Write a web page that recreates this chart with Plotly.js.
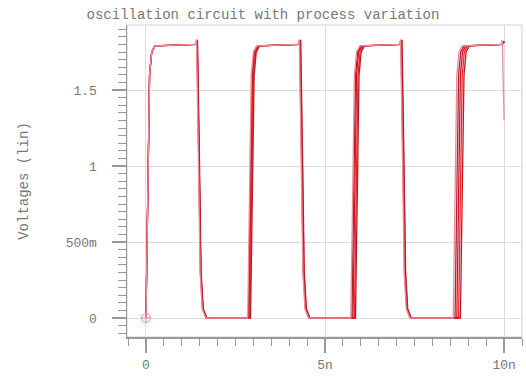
<!DOCTYPE html>
<html>
<head>
<meta charset="utf-8">
<script src="https://cdn.plot.ly/plotly-3.0.1.min.js"></script>
<style>html,body{margin:0;padding:0;background:#fff;}#chart{width:526px;height:376px;}</style>
</head>
<body>
<div id="chart"></div>
<script>
// time in ns, voltage in V
var t1 = [0, 0.05, 0.10, 0.16, 0.25, 1.37, 1.41, 1.46, 1.51, 1.57, 1.67, 2.84, 2.89, 2.94, 3.00, 3.09, 4.24, 4.28, 4.33, 4.38, 4.44, 4.54, 5.72, 5.77, 5.82, 5.88, 5.97, 7.07, 7.11, 7.16, 7.21, 7.27, 7.37, 8.58, 8.63, 8.68, 8.74, 8.83, 9.91, 9.95, 10.0];
var t2 = [0, 0.05, 0.10, 0.16, 0.25, 1.38, 1.42, 1.47, 1.52, 1.58, 1.68, 2.86, 2.91, 2.96, 3.02, 3.11, 4.25, 4.29, 4.34, 4.39, 4.45, 4.55, 5.75, 5.80, 5.85, 5.91, 6.00, 7.08, 7.12, 7.17, 7.22, 7.28, 7.38, 8.63, 8.68, 8.73, 8.79, 8.88, 9.94, 9.98, 10.0];
var t3 = [0, 0.05, 0.10, 0.16, 0.25, 1.39, 1.43, 1.48, 1.53, 1.59, 1.69, 2.88, 2.93, 2.98, 3.04, 3.13, 4.26, 4.30, 4.35, 4.40, 4.46, 4.56, 5.78, 5.83, 5.88, 5.94, 6.03, 7.09, 7.13, 7.18, 7.23, 7.29, 7.39, 8.68, 8.73, 8.78, 8.84, 8.93, 9.94, 9.98, 10.0];
var t4 = [0, 0.05, 0.10, 0.16, 0.25, 1.39, 1.43, 1.48, 1.53, 1.59, 1.69, 2.90, 2.95, 3.00, 3.06, 3.15, 4.27, 4.31, 4.36, 4.41, 4.47, 4.57, 5.82, 5.87, 5.92, 5.98, 6.07, 7.10, 7.14, 7.19, 7.24, 7.30, 7.40, 8.73, 8.78, 8.83, 8.89, 8.98, 9.95, 9.99, 10.0];
var t5 = [0, 0.05, 0.10, 0.16, 0.25, 1.40, 1.44, 1.49, 1.54, 1.60, 1.70, 2.92, 2.97, 3.02, 3.08, 3.17, 4.28, 4.32, 4.37, 4.42, 4.48, 4.58, 5.85, 5.90, 5.95, 6.01, 6.10, 7.11, 7.15, 7.20, 7.25, 7.31, 7.41, 8.78, 8.83, 8.88, 8.94, 9.03, 9.95, 9.99, 10.0];
var vFast = [0, 0.9, 1.6, 1.75, 1.79, 1.80, 1.83, 1.1, 0.3, 0.06, 0, 0, 0.9, 1.6, 1.75, 1.79, 1.80, 1.83, 1.1, 0.3, 0.06, 0, 0, 0.9, 1.6, 1.75, 1.79, 1.80, 1.83, 1.1, 0.3, 0.06, 0, 0, 0.9, 1.6, 1.75, 1.79, 1.80, 1.83, 1.3];
var vSlow = [0, 0.9, 1.6, 1.75, 1.79, 1.80, 1.83, 1.1, 0.3, 0.06, 0, 0, 0.9, 1.6, 1.75, 1.79, 1.80, 1.83, 1.1, 0.3, 0.06, 0, 0, 0.9, 1.6, 1.75, 1.79, 1.80, 1.83, 1.1, 0.3, 0.06, 0, 0, 0.9, 1.6, 1.75, 1.79, 1.80, 1.82, 1.81];
var markerT = [0];
var markerV = [0];
var xTickVals = [0, 5, 10];
var xTickText = ["0", "5n", "10n"];
var yTickVals = [0, 0.5, 1, 1.5];
var yTickText = ["0", "500m", "1", "1.5"];
var seriesT = [t2, t3, t4, t5, t1];
var seriesV = [vSlow, vSlow, vSlow, vSlow, vFast];
var seriesColor = ["#a8243a", "#d4141e", "#ff2222", "#b81c2c", "#ee8c9c"];

var mono = "Liberation Mono, DejaVu Sans Mono, monospace";
var traces = [];
for (var i = 0; i < seriesT.length; i++) {
  traces.push({x: seriesT[i], y: seriesV[i], type: "scatter", mode: "lines",
    line: {color: seriesColor[i], width: 1.3}, hoverinfo: "skip", showlegend: false});
}
traces.push({x: markerT, y: markerV, type: "scatter", mode: "markers",
  marker: {symbol: "circle-cross-open", size: 9, color: "#ee8c9c", line: {width: 1}}, showlegend: false});

var layout = {
  width: 526, height: 376,
  margin: {l: 127, r: 4, t: 25, b: 39},
  paper_bgcolor: "#fff", plot_bgcolor: "#fff",
  showlegend: false,
  title: {text: "oscillation circuit with process variation", font: {family: mono, size: 14, color: "#777"},
    x: 0.5, xref: "container", xanchor: "center", y: 0.963, yref: "container", yanchor: "middle"},
  xaxis: {range: [-0.53, 10.5], tickvals: xTickVals, ticktext: xTickText,
    showgrid: true, gridcolor: "#dcdcdc", gridwidth: 1, zeroline: false,
    showline: true, linecolor: "#999", linewidth: 1.5,
    ticks: "outside", ticklen: 14, tickcolor: "#999", tickwidth: 1.5, ticklabelstandoff: 1,
    minor: {dtick: 0.5, ticks: "outside", ticklen: 7, tickcolor: "#999", tickwidth: 1, showgrid: false},
    tickfont: {family: mono, size: 13, color: "#777"}, fixedrange: true},
  yaxis: {range: [-0.125, 1.928], tickvals: yTickVals, ticktext: yTickText,
    showgrid: true, gridcolor: "#dcdcdc", gridwidth: 1, zeroline: false,
    showline: true, linecolor: "#999", linewidth: 1.5,
    ticks: "outside", ticklen: 14, tickcolor: "#999", tickwidth: 1.5, ticklabelstandoff: 12,
    minor: {dtick: 0.05, ticks: "outside", ticklen: 8, tickcolor: "#999", tickwidth: 1, showgrid: false},
    tickfont: {family: mono, size: 13, color: "#777"},
    title: {text: "Voltages (lin)", font: {family: mono, size: 14, color: "#777"}, standoff: 34},
    fixedrange: true},
  shapes: [{type: "rect", xref: "paper", yref: "paper", x0: 0, x1: 1, y0: 0, y1: 1,
    line: {color: "#cfcfcf", width: 1}, layer: "below"}]
};
Plotly.newPlot("chart", traces, layout, {displayModeBar: false, staticPlot: true});
</script>
</body>
</html>
